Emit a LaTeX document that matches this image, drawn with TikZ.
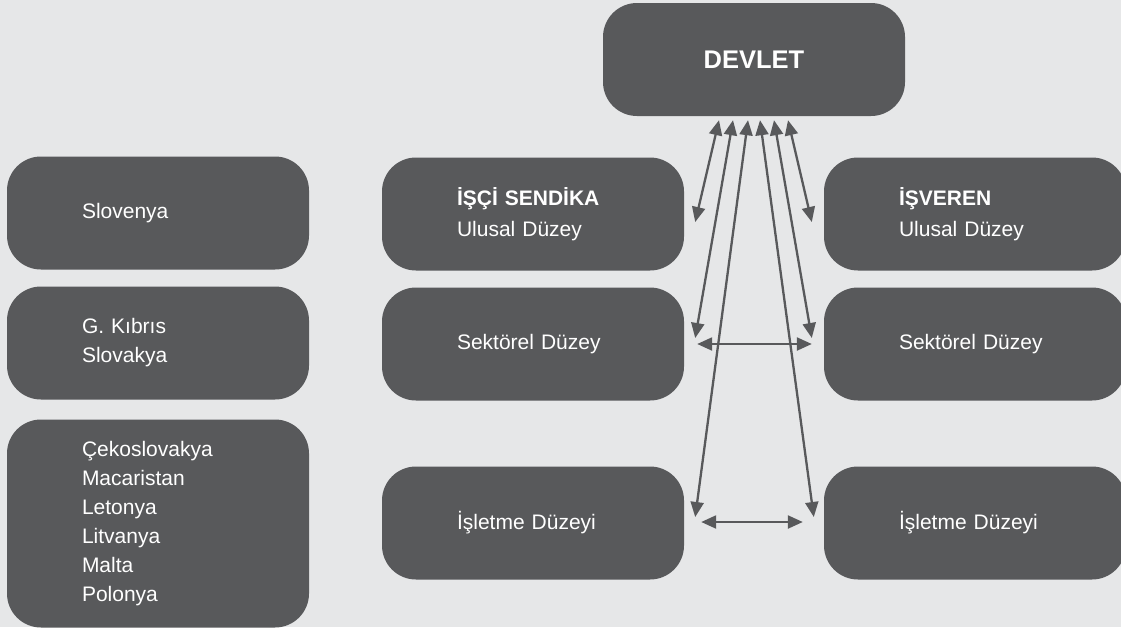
\documentclass[tikz,border=0pt]{standalone}
\usepackage{fontspec}
\setmainfont{Liberation Sans}
\usetikzlibrary{arrows.meta,calc}
\definecolor{bgc}{HTML}{E6E7E8}
\definecolor{boxc}{HTML}{58595B}
\begin{document}
\begin{tikzpicture}[x=1pt,y=-1pt,
  box/.style={fill=boxc, rounded corners=34pt, minimum width=302pt, minimum height=113pt,
    inner xsep=0pt, inner ysep=0pt, text width=152pt, align=left, text=white,
    font=\fontsize{21}{29}\selectfont},
  link/.style={draw=boxc, line width=2.3pt,
    {Triangle[length=15pt,width=13pt]}-{Triangle[length=15pt,width=13pt]}}]
\fill[bgc] (0,0) rectangle (1121,627);
\clip (0,0) rectangle (1121,627);
\useasboundingbox (0,0) rectangle (1121,627);

\node[box, align=center, font=\bfseries\fontsize{25.5}{30}\selectfont] (devlet) at (754,59.5) {DEVLET};

\node[box] (slovenya) at (158,213) {Slovenya};
\node[box] (kibris) at (158,343) {G. Kıbrıs\\Slovakya};
\node[box, minimum height=208pt] (ceko) at (158,523.5) {Çekoslovakya\\Macaristan\\Letonya\\Litvanya\\Malta\\Polonya};

\node[box, font=\fontsize{21}{31}\selectfont] (isci) at (533,214) {{\bfseries İŞÇİ SENDİKA}\\Ulusal Düzey};
\node[box] (sekL) at (533,344) {Sektörel Düzey};
\node[box] (isletL) at (533,523) {İşletme Düzeyi};

\node[box, font=\fontsize{21}{31}\selectfont] (isveren) at (975,214) {{\bfseries İŞVEREN}\\Ulusal Düzey};
\node[box] (sekR) at (975,344) {Sektörel Düzey};
\node[box] (isletR) at (975,523) {İşletme Düzeyi};

\draw[link] ($(devlet.south)+(-35,4)$) -- ($(isci.east)+(11,8)$);
\draw[link] ($(devlet.south)+(34,4)$) -- ($(isveren.west)+(-12,8)$);
\draw[link] ($(devlet.south)+(-21,4)$) -- ($(sekL.east)+(11,-6)$);
\draw[link] ($(devlet.south)+(20,4)$) -- ($(sekR.west)+(-12,-6)$);
\draw[link] ($(devlet.south)+(-6,4)$) -- ($(isletL.east)+(11,-6)$);
\draw[link] ($(devlet.south)+(6,4)$) -- ($(isletR.west)+(-10,-6)$);
\draw[link] ($(sekL.east)+(13,0)$) -- ($(sekR.west)+(-12,0)$);
\draw[link] ($(isletL.east)+(17,-1)$) -- ($(isletR.west)+(-21,-1)$);
\end{tikzpicture}
\end{document}
